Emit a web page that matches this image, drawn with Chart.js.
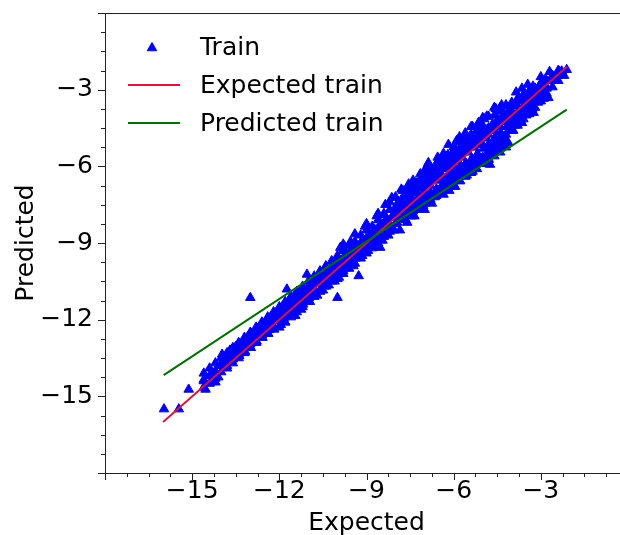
<!DOCTYPE html>
<html>
<head>
<meta charset="utf-8">
<script src="https://cdn.jsdelivr.net/npm/chart.js@4.4.0/dist/chart.umd.min.js"></script>
<style>
  html, body { margin: 0; padding: 0; background: #fff; overflow: hidden; }
</style>
</head>
<body>
<canvas id="myChart" width="650" height="535"></canvas>
<script>
// scatter points: [expected, predicted]
var trainPoints = [
  [-15.97,-15.5],[-15.46,-15.5],[-15.12,-14.73],[-14.6,-14.35],[-14.54,-14.73],[-14.2,-14.45],[-14.35,-14.1],[-14.05,-13.8],[-14.1,-14.25],
  [-13.97,-13.36],[-13.9,-13.7],[-13.8,-13.55],[-13.7,-13.2],[-13.65,-13.6],[-13.55,-13.3],[-13.5,-13.05],[-13.4,-13.35],[-13.35,-13.0],
  [-13.3,-13.2],[-13.2,-12.85],[-13.15,-13.1],[-13.1,-12.7],[-13.0,-12.95],[-12.95,-12.55],[-12.9,-12.8],[-12.8,-12.45],[-12.75,-12.7],
  [-12.7,-12.3],[-12.6,-12.6],[-12.55,-12.2],[-12.5,-12.45],[-12.4,-12.0],[-12.35,-12.4],[-12.3,-11.9],[-12.2,-12.25],[-12.15,-11.75],
  [-12.1,-12.05],[-13.0,-11.14],
  [-12.0,-11.7],[-11.95,-12.2],[-11.9,-11.5],[-11.85,-11.95],[-11.8,-12.1],[-11.74,-10.81],[-11.7,-11.4],[-11.65,-11.8],[-11.6,-11.1],
  [-11.5,-11.5],[-11.45,-11.85],[-11.4,-11.0],[-11.3,-11.3],[-11.25,-11.6],[-11.2,-10.85],[-11.1,-11.15],[-11.05,-10.23],[-11.0,-10.7],
  [-10.95,-11.3],[-10.9,-10.6],[-10.8,-10.95],[-10.75,-10.4],[-10.7,-11.05],[-10.6,-10.55],[-10.55,-10.2],[-10.5,-10.85],[-10.4,-10.1],
  [-10.35,-10.45],[-10.3,-10.65],[-10.2,-9.9],[-10.15,-10.3],[-10.1,-10.5],[-10.0,-11.14],[-10.05,-9.75],[-10.0,-10.1],
  [-9.95,-10.35],[-9.9,-9.18],[-9.85,-9.7],[-9.8,-10.1],[-9.7,-9.4],[-9.65,-9.95],[-9.6,-9.1],[-9.5,-9.6],[-9.45,-9.9],[-9.4,-8.95],
  [-9.3,-9.35],[-9.27,-10.29],[-9.2,-8.7],[-9.15,-9.5],[-9.1,-9.1],[-9.0,-8.5],[-8.95,-9.3],[-8.9,-8.8],[-8.8,-8.35],[-8.75,-9.15],
  [-8.7,-8.7],[-8.6,-8.1],[-8.53,-9.18],[-8.5,-8.55],[-8.45,-8.9],[-8.4,-7.85],[-8.3,-8.35],[-8.25,-8.7],[-8.13,-7.23],[-8.1,-8.0],
  [-8.05,-8.5],[-8.0,-7.6],
  [-7.95,-8.2],[-7.9,-7.4],[-7.85,-8.5],[-7.8,-7.8],[-7.7,-7.2],[-7.65,-8.1],[-7.6,-7.55],[-7.5,-6.9],[-7.45,-7.95],[-7.4,-7.35],
  [-7.3,-6.65],[-7.25,-7.7],[-7.2,-7.15],[-7.1,-6.5],[-7.05,-7.55],[-7.0,-6.95],[-6.9,-6.3],[-6.87,-5.86],[-6.85,-7.4],[-6.8,-6.75],
  [-6.7,-6.15],[-6.65,-7.2],[-6.6,-6.55],[-6.5,-5.85],[-6.45,-7.0],[-6.4,-6.35],[-6.3,-5.75],[-6.25,-6.85],[-6.2,-6.1],[-6.18,-5.15],
  [-6.1,-5.6],[-6.05,-6.7],[-6.0,-5.95],
  [-5.95,-5.3],[-5.9,-6.45],[-5.85,-5.8],[-5.78,-6.58],[-5.75,-5.05],[-5.7,-5.65],[-5.65,-6.3],[-5.55,-5.0],[-5.5,-5.45],[-5.45,-6.1],
  [-5.4,-4.75],[-5.3,-5.25],[-5.25,-5.9],[-5.2,-4.6],[-5.1,-5.05],[-5.05,-5.7],[-5.0,-4.4],[-4.9,-4.85],[-4.86,-4.04],[-4.85,-5.5],
  [-4.75,-5.93],[-4.7,-4.6],[-4.65,-5.25],[-4.6,-4.0],[-4.5,-4.4],[-4.45,-5.05],[-4.4,-3.85],[-4.3,-4.25],[-4.25,-4.85],[-4.2,-3.65],
  [-4.12,-5.08],[-4.1,-4.05],[-4.05,-4.6],[-4.0,-3.5],
  [-3.95,-3.95],[-3.9,-4.4],[-3.8,-3.35],[-3.75,-3.8],[-3.7,-4.2],[-3.6,-3.2],[-3.55,-3.6],[-3.5,-4.0],[-3.4,-3.05],[-3.35,-3.45],
  [-3.3,-3.75],[-3.27,-2.87],[-3.2,-3.25],[-3.1,-3.5],[-3.05,-2.85],[-2.95,-3.0],[-2.86,-2.61],[-2.8,-2.95],[-2.74,-3.32],[-2.65,-2.6],
  [-2.55,-2.55],[-2.45,-2.45],[-2.35,-2.3],[-2.28,-2.28],[-2.2,-2.45],[-2.11,-2.22],
  // core of the band
  [-13.95,-13.75],[-13.8,-13.8],[-13.72,-13.45],[-13.6,-13.55],[-13.48,-13.25],[-13.38,-13.42],[-13.28,-13.02],[-13.18,-13.25],
  [-13.08,-12.88],[-12.98,-13.1],[-12.88,-12.65],[-12.78,-12.85],[-12.68,-12.5],[-12.58,-12.7],[-12.48,-12.28],[-12.38,-12.55],
  [-12.28,-12.1],[-12.18,-12.38],[-12.08,-11.9],[-11.98,-12.05],[-11.88,-11.72],[-11.78,-11.88],[-11.68,-11.55],[-11.58,-11.75],
  [-11.48,-11.3],[-11.38,-11.58],[-11.28,-11.1],[-11.18,-11.4],[-11.08,-10.92],[-10.98,-11.15],[-10.88,-10.75],[-10.78,-10.98],
  [-10.68,-10.52],[-10.58,-10.8],[-10.48,-10.32],[-10.38,-10.6],[-10.28,-10.12],[-10.18,-10.4],[-10.08,-9.92],[-9.98,-10.2],
  [-9.88,-9.75],[-9.78,-10.0],[-9.68,-9.55],[-9.58,-9.8],[-9.48,-9.32],[-9.38,-9.6],[-9.28,-9.12],[-9.18,-9.38],[-9.08,-8.92],
  [-8.98,-9.18],[-8.88,-8.72],[-8.78,-8.98],[-8.68,-8.5],[-8.58,-8.78],[-8.48,-8.3],[-8.38,-8.6],[-8.28,-8.1],[-8.18,-8.4],
  [-8.08,-7.88],[-7.98,-8.2],[-7.88,-7.68],[-7.78,-8.02],[-7.68,-7.48],[-7.58,-7.85],[-7.48,-7.28],[-7.38,-7.65],[-7.28,-7.05],
  [-7.18,-7.45],[-7.08,-6.85],[-6.98,-7.28],[-6.88,-6.65],[-6.78,-7.1],[-6.68,-6.45],[-6.58,-6.92],[-6.48,-6.25],[-6.38,-6.72],
  [-6.28,-6.05],[-6.18,-6.55],[-6.08,-5.85],[-5.98,-6.35],[-5.88,-5.62],[-5.78,-6.12],[-5.68,-5.42],[-5.58,-5.9],[-5.48,-5.22],
  [-5.38,-5.7],[-5.28,-5.0],[-5.18,-5.5],[-5.08,-4.8],[-4.98,-5.3],[-4.88,-4.58],[-4.78,-5.1],[-4.68,-4.38],[-4.58,-4.88],
  [-4.48,-4.18],[-4.38,-4.68],[-4.28,-3.98],[-4.18,-4.45],[-4.08,-3.8],[-3.98,-4.2],[-3.88,-3.6],[-3.78,-4.0],[-3.68,-3.42],
  [-3.58,-3.8],[-3.48,-3.25],[-3.38,-3.6],[-3.28,-3.12],[-3.18,-3.38],[-3.08,-3.1],
  // upper edge
  [-9.55,-8.95],[-9.05,-8.35],[-8.65,-7.95],[-8.35,-7.5],[-7.75,-6.95],[-7.55,-6.7],[-7.15,-6.3],[-6.95,-6.05],[-6.55,-5.65],
  [-6.35,-5.5],[-5.9,-5.0],[-5.6,-4.7],[-5.35,-4.45],[-5.15,-4.3],[-4.95,-4.15],[-4.55,-3.75],[-4.35,-3.6],[-3.85,-3.1],
  [-3.65,-2.95],[-3.45,-2.8],[-3.0,-2.5],[-2.7,-2.3],
  // lower edge
  [-7.6,-8.2],[-7.35,-7.95],[-7.0,-7.7],[-6.75,-7.45],[-6.35,-7.1],[-6.15,-6.95],[-5.95,-6.8],[-5.55,-6.35],[-5.35,-6.2],
  [-5.0,-5.85],[-4.8,-5.7],[-4.55,-5.4],[-4.35,-5.2],[-3.95,-4.6],[-3.65,-4.3],[-3.25,-3.9],[-2.9,-3.35],
  // filling of the solid band
  [-14.6,-14.65],[-14.6,-14.4],[-14.6,-14.1],[-14.4,-14.5],[-14.4,-14.2],[-14.4,-13.9],[-14.2,-14.3],[-14.2,-14.0],[-14.2,-13.7],
  [-14.0,-14.05],[-14.0,-13.8],[-14.0,-13.5],[-13.8,-13.9],[-13.8,-13.6],[-13.8,-13.3],[-13.6,-13.7],[-13.6,-13.4],[-13.6,-13.1],
  [-13.4,-13.5],[-13.4,-13.2],[-13.4,-12.9],[-13.2,-13.3],[-13.2,-13.0],[-13.2,-12.7],[-13.0,-13.1],[-13.0,-12.8],[-13.0,-12.5],
  [-12.8,-12.9],[-12.8,-12.6],[-12.8,-12.3],[-12.6,-12.7],[-12.6,-12.4],[-12.6,-12.1],[-12.4,-12.55],[-12.4,-12.2],[-12.4,-11.9],
  [-12.2,-12.35],[-12.2,-12.0],[-12.2,-11.7],
  [-12.0,-12.3],[-12.0,-12.0],[-12.0,-11.75],[-12.0,-11.5],[-11.8,-12.1],[-11.8,-11.8],[-11.8,-11.55],[-11.8,-11.3],
  [-11.6,-11.9],[-11.6,-11.6],[-11.6,-11.35],[-11.6,-11.1],[-11.4,-11.7],[-11.4,-11.4],[-11.4,-11.15],[-11.4,-10.9],
  [-11.2,-11.5],[-11.2,-11.2],[-11.2,-10.95],[-11.2,-10.7],[-11.0,-11.3],[-11.0,-11.0],[-11.0,-10.75],[-11.0,-10.5],
  [-10.8,-11.1],[-10.8,-10.8],[-10.8,-10.55],[-10.8,-10.3],[-10.6,-10.9],[-10.6,-10.6],[-10.6,-10.35],[-10.6,-10.1],
  [-10.4,-10.7],[-10.4,-10.4],[-10.4,-10.15],[-10.4,-9.9],[-10.2,-10.5],[-10.2,-10.2],[-10.2,-9.95],[-10.2,-9.7],
  [-10.0,-10.4],[-10.0,-9.8],[-10.0,-9.5],[-9.8,-10.2],[-9.8,-9.9],[-9.8,-9.6],[-9.8,-9.3],[-9.8,-9.05],
  [-9.6,-10.0],[-9.6,-9.7],[-9.6,-9.4],[-9.4,-9.8],[-9.4,-9.5],[-9.4,-9.2],[-9.4,-8.65],
  [-9.2,-9.6],[-9.2,-9.3],[-9.2,-9.0],[-9.0,-9.4],[-9.0,-8.8],[-9.0,-8.25],
  [-8.8,-9.2],[-8.8,-8.9],[-8.8,-8.6],[-8.6,-9.0],[-8.6,-8.4],[-8.6,-7.85],
  [-8.4,-8.75],[-8.4,-8.2],[-8.4,-7.9],[-8.2,-8.55],[-8.2,-8.3],[-8.2,-7.7],[-8.2,-7.4],
  [-8.0,-8.25],[-8.0,-7.95],[-8.0,-7.7],[-8.0,-7.2],[-7.8,-8.05],[-7.8,-7.55],[-7.8,-7.3],[-7.8,-6.9],
  [-7.6,-7.9],[-7.6,-7.65],[-7.6,-7.15],[-7.6,-6.9],[-7.4,-7.75],[-7.4,-7.5],[-7.4,-7.0],[-7.4,-6.75],[-7.4,-6.55],
  [-7.2,-7.6],[-7.2,-7.35],[-7.2,-6.85],[-7.2,-6.6],[-7.0,-7.45],[-7.0,-7.2],[-7.0,-6.7],[-7.0,-6.45],[-7.0,-6.2],
  [-6.8,-7.3],[-6.8,-7.05],[-6.8,-6.55],[-6.8,-6.3],[-6.8,-6.05],[-6.6,-7.15],[-6.6,-6.9],[-6.6,-6.4],[-6.6,-6.15],[-6.6,-5.9],
  [-6.4,-7.0],[-6.4,-6.75],[-6.4,-6.5],[-6.4,-6.0],[-6.4,-5.7],[-6.2,-6.85],[-6.2,-6.6],[-6.2,-6.35],[-6.2,-5.85],[-6.2,-5.55],
  [-6.0,-6.7],[-6.0,-6.45],[-6.0,-6.2],[-6.0,-5.7],[-6.0,-5.45],[-6.0,-5.25],
  [-5.8,-6.55],[-5.8,-6.3],[-5.8,-6.05],[-5.8,-5.55],[-5.8,-5.3],[-5.8,-4.85],
  [-5.6,-6.4],[-5.6,-6.15],[-5.6,-5.9],[-5.6,-5.4],[-5.6,-5.15],[-5.6,-4.85],
  [-5.4,-6.25],[-5.4,-6.0],[-5.4,-5.75],[-5.4,-5.25],[-5.4,-5.0],[-5.4,-4.45],
  [-5.2,-6.1],[-5.2,-5.85],[-5.2,-5.6],[-5.2,-5.1],[-5.2,-4.85],[-5.2,-4.45],
  [-5.0,-5.9],[-5.0,-5.65],[-5.0,-5.15],[-5.0,-4.9],[-5.0,-4.65],[-5.0,-4.1],
  [-4.8,-5.75],[-4.8,-5.5],[-4.8,-5.25],[-4.8,-4.75],[-4.8,-4.5],[-4.8,-4.05],
  [-4.6,-5.6],[-4.6,-5.35],[-4.6,-5.1],[-4.6,-4.6],[-4.6,-4.35],[-4.6,-3.7],
  [-4.4,-5.45],[-4.4,-5.2],[-4.4,-4.95],[-4.4,-4.45],[-4.4,-4.2],[-4.4,-3.7],
  [-4.2,-5.25],[-4.2,-5.0],[-4.2,-4.75],[-4.2,-4.25],[-4.2,-4.0],[-4.2,-3.6],
  [-4.0,-4.6],[-4.0,-4.35],[-4.0,-4.1],[-4.0,-3.85],[-4.0,-3.6],[-3.8,-4.4],[-3.8,-4.15],[-3.8,-3.9],[-3.8,-3.65],[-3.8,-3.45],
  [-3.6,-4.15],[-3.6,-3.9],[-3.6,-3.65],[-3.6,-3.4],[-3.4,-3.95],[-3.4,-3.7],[-3.4,-3.45],[-3.4,-3.2],
  [-3.2,-3.7],[-3.2,-3.45],[-3.2,-3.2],[-3.2,-2.95],[-3.0,-3.45],[-3.0,-3.2],[-3.0,-2.95],[-3.0,-2.75],
  [-2.8,-3.15],[-2.8,-2.9],[-2.8,-2.65],[-2.6,-2.9],[-2.6,-2.65],[-2.6,-2.45],[-2.4,-2.65],[-2.4,-2.45],[-2.4,-2.25]
];

// end points of the two lines
var lineExpectedX = [-16.0, -2.1];
var lineExpectedY = [-16.0, -2.1];
var linePredictedX = [-15.98, -2.11];
var linePredictedY = [-14.17, -3.78];

var axisMin = -18;
var axisMax = 0;
var majorStep = 3;
var minorStep = 0.75;

var seriesLabels = ['Train', 'Expected train', 'Predicted train'];
var seriesColors = ['#0000ff', '#dc143c', '#007000'];

var fontFamily = '"DejaVu Sans", sans-serif';

function toXY(xs, ys) {
    return xs.map(function (x, i) { return { x: x, y: ys[i] }; });
}

function tickText(value) {
    if (value === axisMin || value === axisMax) return '';
    return String(value).replace('-', '\u2212');
}

// frame, major/minor tick marks and the in-plot legend
var decorations = {
    id: 'decorations',
    afterDraw: function (chart) {
        var ctx = chart.ctx;
        var a = chart.chartArea;
        var sx = chart.scales.x, sy = chart.scales.y;
        ctx.save();
        ctx.strokeStyle = '#222';
        ctx.lineWidth = 1;
        ctx.strokeRect(Math.round(a.left) + 0.5, Math.round(a.top) + 0.5,
            Math.round(a.right - a.left), Math.round(a.bottom - a.top));

        ctx.beginPath();
        for (var v = axisMin; v <= axisMax + 1e-9; v += minorStep) {
            var major = Math.abs(v / majorStep - Math.round(v / majorStep)) < 1e-6;
            var len = major ? 7 : 4;
            var px = Math.round(sx.getPixelForValue(v)) + 0.5;
            ctx.moveTo(px, a.bottom);
            ctx.lineTo(px, a.bottom + len);
            var py = Math.round(sy.getPixelForValue(v)) + 0.5;
            ctx.moveTo(a.left, py);
            ctx.lineTo(a.left - len, py);
        }
        ctx.stroke();

        // legend
        ctx.font = '25px ' + fontFamily;
        ctx.textBaseline = 'middle';
        ctx.textAlign = 'left';
        var rows = [47, 85, 123];
        chart.data.datasets.forEach(function (ds, i) {
            var y = rows[i];
            if (i === 0) {
                var r = 5.5, cx = 152, cy = y + 1;
                ctx.beginPath();
                ctx.moveTo(cx, cy - r);
                ctx.lineTo(cx + r * 0.866, cy + r * 0.5);
                ctx.lineTo(cx - r * 0.866, cy + r * 0.5);
                ctx.closePath();
                ctx.fillStyle = ds.backgroundColor;
                ctx.fill();
                ctx.lineWidth = 1;
                ctx.strokeStyle = ds.borderColor;
                ctx.stroke();
            } else {
                ctx.beginPath();
                ctx.moveTo(128, y);
                ctx.lineTo(180, y);
                ctx.lineWidth = 2;
                ctx.strokeStyle = ds.borderColor;
                ctx.stroke();
            }
            ctx.fillStyle = '#000';
            ctx.fillText(ds.label, 200, y + 1);
        });
        ctx.restore();
    }
};

var ctx = document.getElementById('myChart').getContext('2d');
var myChart = new Chart(ctx, {
    type: 'scatter',
    data: {
        datasets: [{
            label: seriesLabels[0],
            data: trainPoints.map(function (p) { return { x: p[0], y: p[1] }; }),
            pointStyle: 'triangle',
            pointRadius: 5.5,
            pointHoverRadius: 5.5,
            backgroundColor: seriesColors[0],
            borderColor: seriesColors[0],
            borderWidth: 1,
            order: 2
        }, {
            label: seriesLabels[1],
            type: 'line',
            data: toXY(lineExpectedX, lineExpectedY),
            borderColor: seriesColors[1],
            backgroundColor: seriesColors[1],
            borderWidth: 2,
            pointRadius: 0,
            fill: false,
            order: 1
        }, {
            label: seriesLabels[2],
            type: 'line',
            data: toXY(linePredictedX, linePredictedY),
            borderColor: seriesColors[2],
            backgroundColor: seriesColors[2],
            borderWidth: 2,
            pointRadius: 0,
            fill: false,
            order: 0
        }]
    },
    options: {
        responsive: false,
        animation: false,
        layout: { padding: { top: 13, right: 22, bottom: 0, left: 0 } },
        plugins: {
            legend: { display: false },
            tooltip: { enabled: false }
        },
        scales: {
            x: {
                type: 'linear',
                min: axisMin,
                max: axisMax,
                grid: { display: false, drawTicks: false },
                border: { display: false },
                ticks: {
                    stepSize: majorStep,
                    color: '#000',
                    padding: 3,
                    maxRotation: 0,
                    font: { family: fontFamily, size: 25 },
                    callback: tickText
                },
                title: {
                    display: true,
                    text: 'Expected',
                    color: '#000',
                    padding: { top: 0, bottom: 0 },
                    font: { family: fontFamily, size: 25, lineHeight: 0.9 }
                },
                afterFit: function (scale) {
                    scale.height = 62;
                    scale.paddingLeft = 0;
                    scale.paddingRight = 0;
                }
            },
            y: {
                type: 'linear',
                min: axisMin,
                max: axisMax,
                grid: { display: false, drawTicks: false },
                border: { display: false },
                ticks: {
                    stepSize: majorStep,
                    color: '#000',
                    padding: 12,
                    font: { family: fontFamily, size: 25 },
                    callback: tickText
                },
                title: {
                    display: true,
                    text: 'Predicted',
                    color: '#000',
                    padding: { top: 14, bottom: 0 },
                    font: { family: fontFamily, size: 25, lineHeight: 1.0 }
                },
                afterFit: function (scale) {
                    scale.width = 105;
                    scale.paddingTop = 0;
                    scale.paddingBottom = 0;
                }
            }
        }
    },
    plugins: [decorations]
});
</script>
</body>
</html>
